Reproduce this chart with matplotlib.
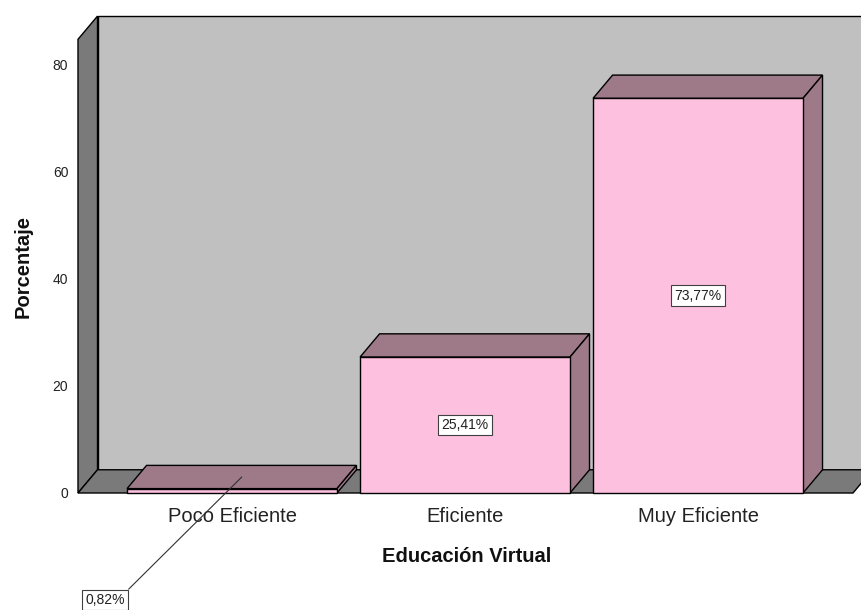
import matplotlib.pyplot as plt
from matplotlib.patches import Polygon

plt.rcParams['font.family'] = ['Liberation Sans', 'DejaVu Sans']

# Data
categorias = ['Poco Eficiente', 'Eficiente', 'Muy Eficiente']
porcentajes = [0.82, 25.41, 73.77]
yticks = [0, 20, 40, 60, 80]

# Colours
pink = '#FDC0DF'
mauve = '#9E7A89'
wall_back = '#C0C0C0'
wall_dark = '#7A7A7A'

fig = plt.figure(figsize=(8.62, 6.10), dpi=100)
ax = fig.add_axes([78 / 862, 117 / 610, 775 / 862, 453.7 / 610])
ax.set_xlim(-0.661, 2.665)
ax.set_ylim(0, 84.8)
ax.patch.set_visible(False)
for s in ax.spines.values():
    s.set_visible(False)

x0, x1 = ax.get_xlim()
top = ax.get_ylim()[1]
dx, dy = 0.0837, 4.34   # depth offset of the pseudo-3D box
w = 0.901               # bar width


def face(pts, color, z):
    ax.add_patch(Polygon(pts, closed=True, facecolor=color, edgecolor='black',
                         linewidth=1.0, clip_on=False, zorder=z, joinstyle='miter'))


# walls and floor
face([(x0 + dx, dy), (x1 + dx, dy), (x1 + dx, top + dy), (x0 + dx, top + dy)], wall_back, 1)
face([(x0, 0), (x0 + dx, dy), (x0 + dx, top + dy), (x0, top)], wall_dark, 2)
face([(x0, 0), (x1, 0), (x1 + dx, dy), (x0 + dx, dy)], wall_dark, 2)

# bars
for i, v in enumerate(porcentajes):
    l, r = i - w / 2, i + w / 2
    z = 3 + i
    face([(l, v), (r, v), (r + dx, v + dy), (l + dx, v + dy)], mauve, z)
    face([(r, 0), (r + dx, dy), (r + dx, v + dy), (r, v)], mauve, z)
    face([(l, 0), (r, 0), (r, v), (l, v)], pink, z)

# value labels
box = dict(boxstyle='square,pad=0.25', facecolor='white', edgecolor='#404040', linewidth=0.8)
for i, v in enumerate(porcentajes):
    txt = f'{v:.2f}%'.replace('.', ',')
    if v > 5:
        ax.text(i, v / 2, txt, ha='center', va='center', fontsize=10,
                color='#202020', bbox=box, zorder=10)
    else:
        ax.annotate(txt, xy=(i + dx / 2, v + dy / 2), xytext=(i - 0.545, -20),
                    ha='center', va='center', fontsize=10, color='#202020',
                    bbox=box, zorder=10, annotation_clip=False,
                    arrowprops=dict(arrowstyle='-', color='#303030', lw=0.8,
                                    shrinkA=0, shrinkB=0, relpos=(1, 1)))

# category labels
for i, c in enumerate(categorias):
    ax.text(i, -5.4, c, ha='center', va='baseline', fontsize=14.5, color='#222222')

ax.set_xticks([])
ax.set_yticks(yticks)
ax.set_yticklabels([str(t) for t in yticks], fontsize=10, color='#222222')
ax.tick_params(axis='y', length=0, pad=7)

fig.text(467 / 862, 1 - 556 / 610, 'Educación Virtual', ha='center', va='center',
         fontsize=14.5, fontweight='bold', color='#111111')
fig.text(23 / 862, 1 - 267 / 610, 'Porcentaje', ha='center', va='center',
         rotation=90, fontsize=14.5, fontweight='bold', color='#111111')

fig.savefig('out.png', dpi=100)
